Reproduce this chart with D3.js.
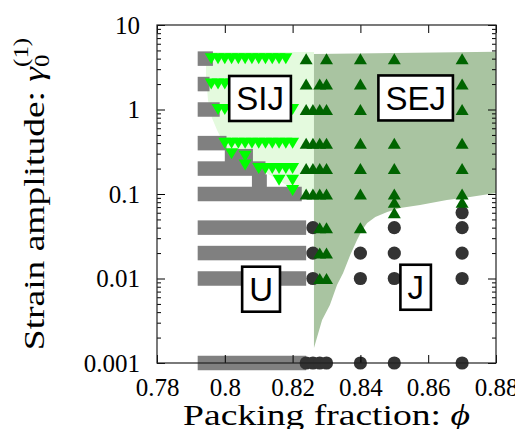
<!DOCTYPE html>
<html>
<head>
<meta charset="utf-8">
<script src="https://cdn.jsdelivr.net/npm/d3@7"></script>
<style>
  body { margin: 0; background: #fff; }
  svg { display: block; }
</style>
</head>
<body>
<svg id="chart" width="515" height="429"></svg>
<script>
// axis ticks
const xTicks = [0.78, 0.80, 0.82, 0.84, 0.86, 0.88];
const xTickLabels = ["0.78", "0.8", "0.82", "0.84", "0.86", "0.88"];
const yTicks = [0.001, 0.01, 0.1, 1, 10];
const yTickLabels = ["0.001", "0.01", "0.1", "1", "10"];

// unjammed runs: [gamma, phi from, phi to]
const uBars = [
  [4, 0.792, 0.7965], [2, 0.792, 0.7955], [1, 0.792, 0.7985], [0.4, 0.792, 0.8005],
  [0.28, 0.800, 0.8083], [0.2, 0.792, 0.812], [0.14, 0.808, 0.8124], [0.1, 0.792, 0.8227],
  [0.04, 0.792, 0.824], [0.02, 0.792, 0.824], [0.01, 0.792, 0.824], [0.001, 0.792, 0.824]
];

// shear induced jamming points [phi, gamma]
const sijPoints = [
  [0.796,4],[0.798,4],[0.800,4],[0.802,4],[0.804,4],[0.806,4],[0.808,4],[0.810,4],[0.812,4],[0.814,4],[0.816,4],[0.818,4],
  [0.796,2],[0.798,2],[0.800,2],[0.802,2],[0.804,2],[0.806,2],[0.808,2],[0.810,2],[0.812,2],[0.814,2],[0.816,2],[0.818,2],
  [0.798,1],[0.800,1],[0.802,1],[0.804,1],[0.806,1],[0.808,1],[0.810,1],[0.812,1],[0.814,1],[0.816,1],[0.818,1],[0.820,1],
  [0.800,0.4],[0.802,0.4],[0.804,0.4],[0.806,0.4],[0.808,0.4],[0.810,0.4],[0.812,0.4],[0.814,0.4],[0.816,0.4],[0.818,0.4],[0.820,0.4],
  [0.802,0.3],[0.806,0.28],[0.806,0.22],
  [0.810,0.2],[0.812,0.2],[0.814,0.2],[0.816,0.2],[0.818,0.2],[0.820,0.2],
  [0.816,0.145],[0.820,0.145],[0.820,0.11]
];

// shear enhanced jamming points [phi, gamma]
const sejPoints = [
  [0.824,4],[0.824,2],[0.824,1],[0.824,0.4],[0.824,0.2],[0.824,0.1],
  [0.826,1],[0.826,0.4],[0.826,0.2],[0.826,0.1],
  [0.828,2],[0.828,1],[0.828,0.4],[0.828,0.2],[0.828,0.1],[0.828,0.04],[0.828,0.02],[0.828,0.01],
  [0.830,4],[0.830,2],[0.830,1],[0.830,0.4],[0.830,0.2],[0.830,0.1],[0.830,0.04],[0.830,0.02],[0.830,0.01],
  [0.84,4],[0.84,2],[0.84,1],[0.84,0.4],[0.84,0.2],[0.84,0.1],[0.84,0.04],
  [0.85,4],[0.85,2],[0.85,1],[0.85,0.4],[0.85,0.2],[0.85,0.1],[0.85,0.08],[0.85,0.06],
  [0.87,4],[0.87,2],[0.87,1],[0.87,0.4],[0.87,0.2],[0.87,0.1],[0.87,0.08]
];

// jammed points [phi, gamma]
const jPoints = [
  [0.826,0.04],[0.826,0.02],[0.826,0.01],
  [0.824,0.001],[0.826,0.001],[0.828,0.001],[0.830,0.001],
  [0.84,0.02],[0.84,0.01],[0.84,0.001],
  [0.85,0.04],[0.85,0.02],[0.85,0.01],[0.85,0.001],
  [0.87,0.06],[0.87,0.04],[0.87,0.02],[0.87,0.01],[0.87,0.001]
];

// phase regions [phi, gamma]
const sijRegion = [
  [0.79445,4.79],[0.79445,2.56],[0.79504,1.296],[0.79622,0.793],[0.7977,0.572],[0.79917,0.4356],
  [0.80035,0.3228],[0.8083,0.246],[0.81274,0.1725],[0.81864,0.1243],[0.82218,0.0873],
  [0.8263,0.0873],[0.8263,4.79]
];
const sejRegion = [
  [0.8263,4.54],[0.8263,0.0015],[0.8287,0.00323],[0.8310,0.00486],[0.8331,0.00838],[0.8349,0.0116],
  [0.8370,0.019],[0.8390,0.0286],[0.8405,0.0375],[0.8420,0.0454],[0.8444,0.0535],[0.8479,0.0612],
  [0.8517,0.0683],[0.8576,0.0741],[0.8655,0.0849],[0.8723,0.0922],[0.88,0.1028],[0.88,4.83]
];

// phase names and where they sit
const phaseNames = ["SIJ", "SEJ", "U", "J"];
const phasePhi = [0.8104, 0.8563, 0.8107, 0.8563];
const phaseGamma = [1.35, 1.37, 0.00747, 0.00788];

const margin = {top: 25, right: 19, bottom: 66, left: 157};
const width = 515 - margin.left - margin.right;
const height = 429 - margin.top - margin.bottom;

const svg = d3.select("#chart");
const g = svg.append("g").attr("transform", `translate(${margin.left},${margin.top})`);

const x = d3.scaleLinear().domain([0.78, 0.88]).range([0, width]);
const y = d3.scaleLog().domain([0.001, 10]).range([height, 0]);

const area = d3.line().x(d => x(d[0])).y(d => y(d[1]));

// regions
g.append("path").attr("d", area(sijRegion) + "Z").attr("fill", "#e4fade");
g.append("path").attr("d", area(sejRegion) + "Z").attr("fill", "#a9c4a1");

// unjammed bars
const barH = 14.5;
g.selectAll(".ubar")
  .data(uBars)
  .enter()
  .append("rect")
  .attr("x", d => x(d[1]))
  .attr("y", d => y(d[0]) - barH / 2)
  .attr("width", d => x(d[2]) - x(d[1]))
  .attr("height", barH)
  .attr("fill", "#808080");

// jammed circles
g.selectAll(".jdot")
  .data(jPoints)
  .enter()
  .append("circle")
  .attr("cx", d => x(d[0]))
  .attr("cy", d => y(d[1]))
  .attr("r", 6.6)
  .attr("fill", "#333333");

// triangles (bbox centred)
const tw = 13, th = 11;
const triUp = `M${-tw/2},${th/2}L${tw/2},${th/2}L0,${-th/2}Z`;
const triDown = `M${-tw/2},${-th/2}L${tw/2},${-th/2}L0,${th/2}Z`;

g.selectAll(".sej")
  .data(sejPoints)
  .enter()
  .append("path")
  .attr("d", triUp)
  .attr("transform", d => `translate(${x(d[0])},${y(d[1])})`)
  .attr("fill", "#006400");

g.selectAll(".sij")
  .data(sijPoints)
  .enter()
  .append("path")
  .attr("d", triDown)
  .attr("transform", d => `translate(${x(d[0])},${y(d[1])})`)
  .attr("fill", "#00ff00");

// axes
const yMinor = [];
yTicks.slice(0, -1).forEach(t => { for (let k = 2; k < 10; k++) yMinor.push(t * k); });

function styleAxis(sel) {
  sel.select(".domain").remove();
  sel.selectAll(".tick line").attr("stroke", "#000");
  sel.selectAll(".tick text")
    .attr("fill", "#000")
    .style("font-family", "'Liberation Serif', serif")
    .style("font-size", "25px");
}

g.append("g")
  .attr("transform", `translate(0,${height})`)
  .call(d3.axisBottom(x).tickValues(xTicks).tickFormat((d, i) => xTickLabels[i])
    .tickSizeInner(-8).tickSizeOuter(0).tickPadding(15))
  .call(styleAxis);

g.append("g")
  .call(d3.axisTop(x).tickValues(xTicks).tickFormat("").tickSizeInner(-8).tickSizeOuter(0))
  .call(styleAxis);

g.append("g")
  .call(d3.axisLeft(y).tickValues(yTicks).tickFormat((d, i) => yTickLabels[i])
    .tickSizeInner(-8).tickSizeOuter(0).tickPadding(17))
  .call(styleAxis);

g.append("g")
  .call(d3.axisLeft(y).tickValues(yMinor).tickFormat("").tickSizeInner(-4).tickSizeOuter(0))
  .call(styleAxis);

g.append("g")
  .attr("transform", `translate(${width},0)`)
  .call(d3.axisRight(y).tickValues(yTicks).tickFormat("").tickSizeInner(-8).tickSizeOuter(0))
  .call(styleAxis);

g.append("g")
  .attr("transform", `translate(${width},0)`)
  .call(d3.axisRight(y).tickValues(yMinor).tickFormat("").tickSizeInner(-4).tickSizeOuter(0))
  .call(styleAxis);

// frame
g.append("rect")
  .attr("width", width)
  .attr("height", height)
  .attr("fill", "none")
  .attr("stroke", "#222")
  .attr("stroke-width", 1.2);

// phase labels
phaseNames.forEach((name, i) => {
  const lg = g.append("g").attr("transform", `translate(${x(phasePhi[i])},${y(phaseGamma[i])})`);
  const rect = lg.append("rect");
  const t = lg.append("text")
    .attr("text-anchor", "middle")
    .attr("dy", "0.36em")
    .style("font-family", "'Liberation Sans', Arial, sans-serif")
    .style("font-size", "33px")
    .text(name);
  const w = t.node().getComputedTextLength() + 14;
  const h = 45;
  rect.attr("x", -w / 2).attr("y", -h / 2).attr("width", w).attr("height", h)
    .attr("fill", "#fff").attr("stroke", "#000").attr("stroke-width", 2.6);
});

// axis titles
const xTitle = svg.append("text")
  .attr("text-anchor", "middle")
  .style("font-family", "'Liberation Serif', serif")
  .style("font-size", "29px");
xTitle.append("tspan").text("Packing fraction: ");
xTitle.append("tspan").style("font-style", "italic").text("ϕ");
const xs = 287 / xTitle.node().getComputedTextLength();
xTitle.attr("transform", `translate(${margin.left + width / 2},425) scale(${xs},1)`);

const yTitle = svg.append("text")
  .attr("text-anchor", "middle")
  .style("font-family", "'Liberation Serif', serif")
  .style("font-size", "30px");
yTitle.append("tspan").text("Strain amplitude: ");
yTitle.append("tspan").style("font-style", "italic").text("γ");
yTitle.append("tspan").attr("dy", 5).style("font-size", "20px").text("0");
yTitle.append("tspan").attr("dx", -10).attr("dy", -21).style("font-size", "20px").text("(1)");
const ys = 325 / yTitle.node().getComputedTextLength();
yTitle.attr("transform", `translate(44,${margin.top + height / 2}) rotate(-90) scale(${ys},1)`);
</script>
</body>
</html>
